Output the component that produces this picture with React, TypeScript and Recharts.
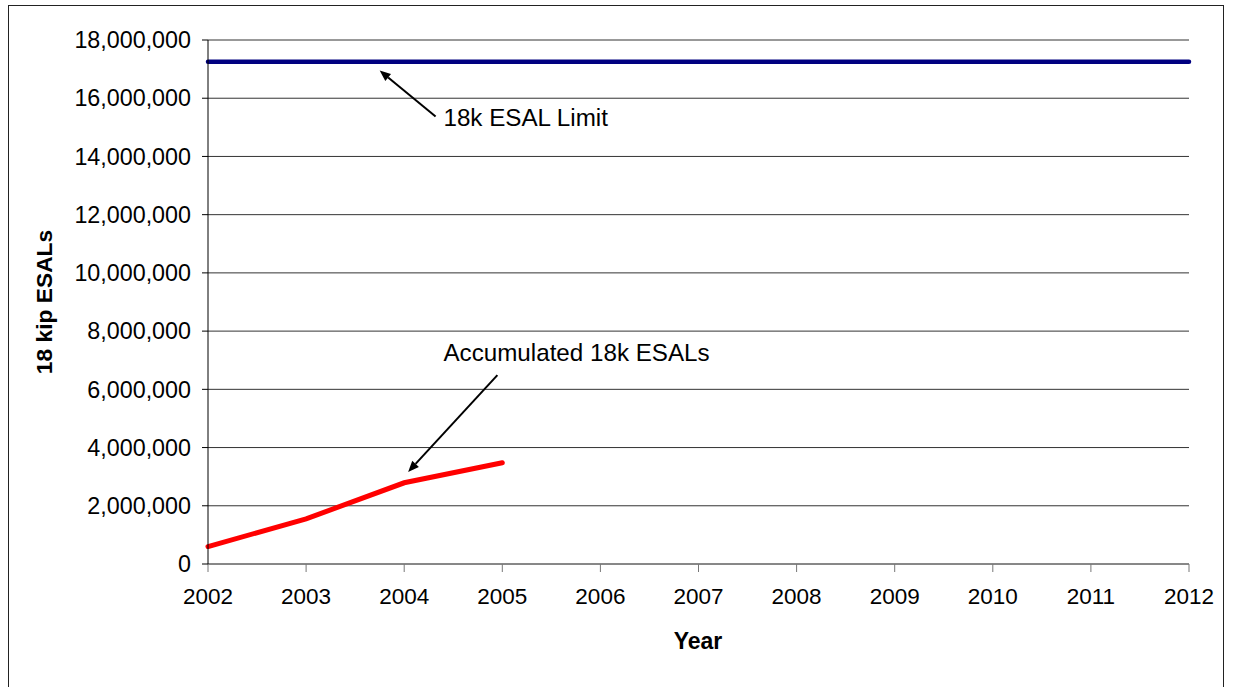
import React from 'react';
import { LineChart, Line, XAxis, YAxis, CartesianGrid, ReferenceLine, ReferenceDot } from 'recharts';

const years = [2002, 2003, 2004, 2005, 2006, 2007, 2008, 2009, 2010, 2011, 2012];
const accumulated = [600000, 1550000, 2790000, 3480000, null, null, null, null, null, null, null];
const limit = [17250000, 17250000, 17250000, 17250000, 17250000, 17250000, 17250000, 17250000, 17250000, 17250000, 17250000];
const yTicks = [0, 2000000, 4000000, 6000000, 8000000, 10000000, 12000000, 14000000, 16000000, 18000000];

const limitArrow = [{ x: 2004.32, y: 15370000 }, { x: 2003.75, y: 16950000 }];
const limitLabel = { x: 2004.4, y: 15050000, text: '18k ESAL Limit' };
const accArrow = [{ x: 2004.95, y: 6490000 }, { x: 2004.04, y: 3160000 }];
const accLabel = { x: 2004.4, y: 6970000, text: 'Accumulated 18k ESALs' };

const data = years.map((y, i) => ({ year: y, accumulated: accumulated[i], limit: limit[i] }));

const FONT = '"Liberation Sans", Arial, sans-serif';

const Arrow = (p: any) => {
  const { x1, y1, x2, y2 } = p;
  const ang = Math.atan2(y2 - y1, x2 - x1);
  const L = 11, W = 4.5;
  const bx = x2 - L * Math.cos(ang), by = y2 - L * Math.sin(ang);
  const px = -Math.sin(ang), py = Math.cos(ang);
  return (
    <g>
      <line x1={x1} y1={y1} x2={bx} y2={by} stroke="#000" strokeWidth={2} />
      <polygon points={`${x2},${y2} ${bx + px * W},${by + py * W} ${bx - px * W},${by - py * W}`} fill="#000" />
    </g>
  );
};

const TextAt = (text: string) => (p: any) => (
  <text x={p.cx} y={p.cy} fontFamily={FONT} fontSize={24.2} fill="#000">{text}</text>
);

export default function App() {
  return (
    <div style={{ position: 'absolute', left: 0, top: 0, width: 1235, height: 687, background: '#fff', overflow: 'hidden', fontFamily: FONT }}>
      <div style={{ position: 'absolute', left: 8, top: 5, width: 1216, height: 700, border: '1.5px solid #222', boxSizing: 'border-box' }} />
      <div style={{ position: 'absolute', left: 0, top: 0 }}>
        <LineChart width={1235} height={687} data={data} margin={{ top: 40, right: 46, bottom: 63, left: 0 }}>
          <CartesianGrid vertical={false} stroke="#333" strokeWidth={1} />
          <XAxis
            dataKey="year"
            type="number"
            domain={[2002, 2012]}
            ticks={years}
            interval={0}
            height={60}
            tickSize={8}
            tickMargin={16}
            stroke="#777"
            tick={{ fill: '#000', fontSize: 22.5, fontFamily: FONT }}
            label={{
              content: () => (
                <text x={698} y={649} textAnchor="middle" fontFamily={FONT} fontSize={23} fontWeight="bold" fill="#000">Year</text>
              ),
            }}
          />
          <YAxis
            type="number"
            domain={[0, 18000000]}
            ticks={yTicks}
            interval={0}
            width={208}
            tickSize={6}
            tickMargin={11}
            stroke="#000"
            tickFormatter={(v: number) => v.toLocaleString('en-US')}
            tick={{ fill: '#000', fontSize: 23.3, fontFamily: FONT }}
            label={{
              content: () => (
                <text x={52} y={302} textAnchor="middle" transform="rotate(-90 52 302)" fontFamily={FONT} fontSize={22.8} fontWeight="bold" fill="#000">18 kip ESALs</text>
              ),
            }}
          />
          <Line type="linear" dataKey="limit" stroke="#000080" strokeWidth={4.5} dot={false} isAnimationActive={false} strokeLinecap="round" />
          <Line type="linear" dataKey="accumulated" stroke="#FF0000" strokeWidth={5} dot={false} isAnimationActive={false} connectNulls={false} strokeLinecap="round" />
          <ReferenceLine segment={limitArrow} ifOverflow="visible" shape={Arrow} />
          <ReferenceLine segment={accArrow} ifOverflow="visible" shape={Arrow} />
          <ReferenceDot x={limitLabel.x} y={limitLabel.y} r={0} ifOverflow="visible" shape={TextAt(limitLabel.text)} />
          <ReferenceDot x={accLabel.x} y={accLabel.y} r={0} ifOverflow="visible" shape={TextAt(accLabel.text)} />
        </LineChart>
      </div>
    </div>
  );
}
